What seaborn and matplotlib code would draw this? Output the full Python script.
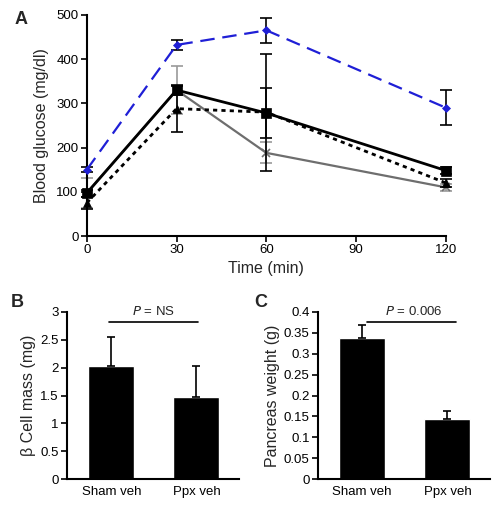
import numpy as np
import pandas as pd
import matplotlib
matplotlib.use("Agg")
import matplotlib.pyplot as plt
import seaborn as sns

sns.set_theme(style="ticks")
plt.rcParams["font.family"] = ["Liberation Sans", "DejaVu Sans"]

# ---- data: panel A (glucose tolerance) ----
time_min = [0, 30, 60, 120]
blue_mean = [150, 432, 465, 290]
blue_err = [6, 12, 28, 40]
square_mean = [97, 330, 278, 148]
square_err = [8, 12, 57, 8]
triangle_mean = [75, 288, 280, 120]
triangle_err = [13, 52, 132, 10]
cross_mean = [98, 330, 188, 110]
cross_err = [34, 55, 24, 8]

# ---- data: panels B and C ----
groups = ["Sham veh", "Ppx veh"]
beta_mass = [2.03, 1.47]
beta_err = [0.52, 0.55]
pancreas_wt = [0.338, 0.143]
pancreas_err = [0.030, 0.021]

fig = plt.figure(figsize=(4.96, 5.12), dpi=100)
axA = fig.add_axes([0.175, 0.539, 0.724, 0.432])
axB = fig.add_axes([0.135, 0.064, 0.347, 0.327])
axC = fig.add_axes([0.641, 0.064, 0.347, 0.327])

blue = "#1f1fd6"
gray = "#6e6e6e"

series = [
    (cross_mean, cross_err, gray, "-", 1.6, "x", 6, "#999999"),
    (triangle_mean, triangle_err, "black", (0, (1.5, 1.5)), 2.0, "^", 6, "black"),
    (square_mean, square_err, "black", "-", 2.0, "s", 6.5, "black"),
    (blue_mean, blue_err, blue, (0, (6.5, 3.5)), 1.6, "D", 4.5, "black"),
]

for i, (m, e, col, ls, lw, mk, ms, ecol) in enumerate(series):
    df = pd.DataFrame({"t": time_min, "v": m})
    axA.errorbar(time_min, m, yerr=e, fmt="none", ecolor=ecol, elinewidth=1.2,
                 capsize=4, capthick=1.2, zorder=2 + i, clip_on=False)
    sns.lineplot(data=df, x="t", y="v", ax=axA, color=col, linestyle=ls, linewidth=lw,
                 marker=mk, markersize=ms, markeredgecolor=col, markerfacecolor=col,
                 markeredgewidth=1.2 if mk == "x" else 0.5, zorder=3 + i, clip_on=False)

axA.set_xlim(0, 120)
axA.set_ylim(0, 500)
axA.set_xticks([0, 30, 60, 90, 120])
axA.set_yticks(np.arange(0, 501, 100))
axA.set_xlabel("Time (min)", fontsize=11.5, labelpad=3)
axA.set_ylabel("Blood glucose (mg/dl)", fontsize=11.5, labelpad=5)

# ---- bar panels ----
def bar_panel(ax, vals, errs, ylim, yticks, ylabel, ptext, ly):
    df = pd.DataFrame({"group": groups, "val": vals})
    sns.barplot(data=df, x="group", y="val", ax=ax, color="black", width=0.54,
                errorbar=None, saturation=1)
    ax.errorbar([0, 1], vals, yerr=[[0, 0], errs], fmt="none", ecolor="black",
                elinewidth=1.2, capsize=3, capthick=1.2, zorder=1)
    ax.set_xlim(-0.52, 1.5)
    ax.set_ylim(*ylim)
    ax.set_yticks(yticks)
    ax.set_yticklabels([f"{t:g}" for t in yticks])
    ax.set_xlabel("")
    ax.set_ylabel(ylabel, fontsize=11.5, labelpad=3)
    ax.plot([-0.03, 1.02], [ly, ly], color="black", lw=1.2, clip_on=False)
    ax.text(0.5, ly + (ylim[1] - ylim[0]) * 0.025, ptext, ha="center", va="bottom",
            fontsize=9.5)

bar_panel(axB, beta_mass, beta_err, (0, 3), [0, 0.5, 1, 1.5, 2, 2.5, 3],
          "β Cell mass (mg)", "$P$ = NS", 2.82)
bar_panel(axC, pancreas_wt, pancreas_err, (0, 0.4),
          [0, 0.05, 0.1, 0.15, 0.2, 0.25, 0.3, 0.35, 0.4],
          "Pancreas weight (g)", "$P$ = 0.006", 0.376)
axC.lines[-1].set_xdata([0.06, 1.1])
axC.texts[-1].set_x(0.6)

for ax in (axA, axB, axC):
    sns.despine(ax=ax)
    for s in ("left", "bottom"):
        ax.spines[s].set_linewidth(1.5)
        ax.spines[s].set_color("black")
    ax.tick_params(labelsize=9.5, width=1.2, length=4, colors="black", pad=2)
    ax.patch.set_alpha(0)
axB.tick_params(axis="x", length=0, pad=5)
axC.tick_params(axis="x", length=0, pad=5)

fig.text(0.03, 0.962, "A", fontsize=13, fontweight="bold", va="center")
fig.text(0.022, 0.41, "B", fontsize=13, fontweight="bold", va="center")
fig.text(0.512, 0.41, "C", fontsize=13, fontweight="bold", va="center")

fig.savefig("out.png", dpi=100)
